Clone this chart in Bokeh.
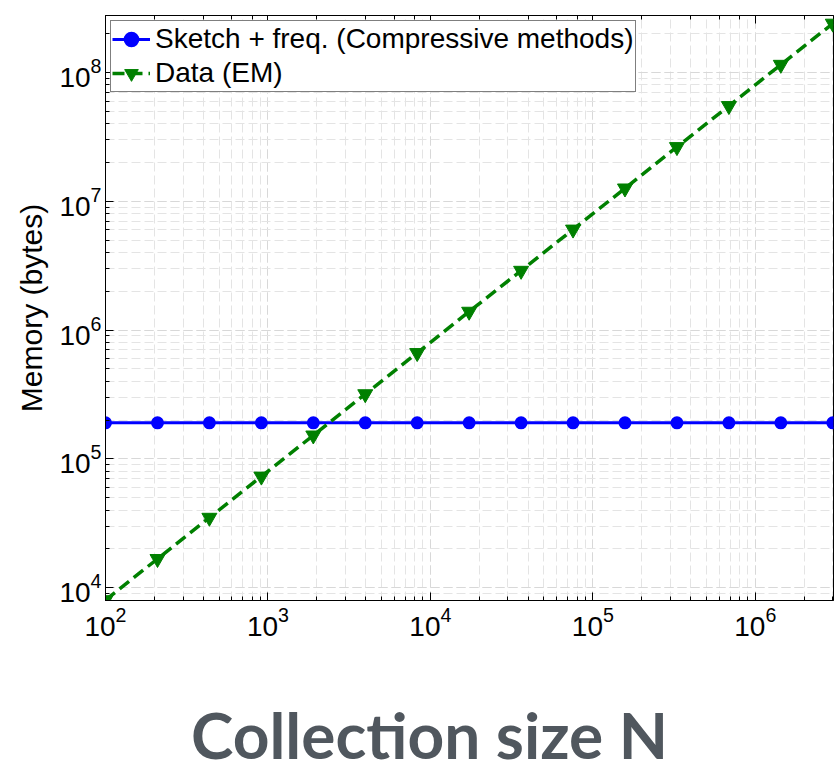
from bokeh.plotting import figure
from bokeh.models import LogAxis, Range1d, CustomJSTickFormatter, Div
from bokeh.layouts import column
from bokeh.embed import file_html
from bokeh.resources import INLINE

# Data
N = [100, 209, 436, 911, 1902, 3972, 8294, 17320, 36170, 75530,
     157700, 329400, 687900, 1436000, 3000000]
sketch_mem = [190000, 190000, 190000, 190000, 190000, 190000, 190000, 190000,
              190000, 190000, 190000, 190000, 190000, 190000, 190000]
em_mem = [8000, 16700, 34900, 72900, 152000, 318000, 664000, 1390000,
          2890000, 6040000, 12600000, 26400000, 55000000, 115000000, 240000000]
series_labels = ["Sketch + freq. (Compressive methods)", "Data (EM)"]
x_title = "Collection size N"
y_title = "Memory (bytes)"

FONT = "Liberation Sans"

p = figure(width=834, height=662, x_axis_type="log", y_axis_type="log",
           x_range=Range1d(100, 3.03e6), y_range=Range1d(7930, 2.77e8),
           output_backend="svg", toolbar_location=None,
           min_border_left=105, min_border_right=1, min_border_top=15,
           min_border_bottom=62, background_fill_color="white",
           border_fill_color="white")
p.outline_line_color = "black"
p.outline_line_width = 1

for ax in (p.xaxis[0], p.yaxis[0]):
    ax.major_tick_in = 8
    ax.major_tick_out = 0
    ax.minor_tick_in = 4
    ax.minor_tick_out = 0
    ax.axis_line_color = "black"
    ax.major_tick_line_color = "black"
    ax.minor_tick_line_color = "black"
    ax.major_label_text_font = FONT
    ax.major_label_text_font_size = "28px"
    ax.major_label_text_color = "black"

p.xaxis.major_label_standoff = 6
p.yaxis.major_label_standoff = 4
p.yaxis.axis_label = y_title
p.yaxis.axis_label_text_font = FONT
p.yaxis.axis_label_text_font_size = "30px"
p.yaxis.axis_label_text_font_style = "normal"
p.yaxis.axis_label_text_color = "black"
p.yaxis.axis_label_standoff = 8

top = LogAxis(major_tick_in=8, major_tick_out=0, minor_tick_in=4, minor_tick_out=0,
              formatter=CustomJSTickFormatter(code="return ''"),
              major_label_standoff=0, axis_line_color="black")
p.add_layout(top, "above")

for g in (p.xgrid[0], p.ygrid[0]):
    g.grid_line_color = "#d8d8d8"
    g.grid_line_dash = "9 4"
    g.grid_line_width = 1
    g.minor_grid_line_color = "#e4e4e4"
    g.minor_grid_line_dash = "9 4"
    g.minor_grid_line_width = 1

blue = "#0000ff"
green = "#008000"
p.line(N, sketch_mem, line_color=blue, line_width=3, legend_label=series_labels[0])
p.scatter(N, sketch_mem, marker="circle", size=11, line_color=blue, line_width=2,
          fill_color=blue, legend_label=series_labels[0])
p.line(N, em_mem, line_color=green, line_width=3.5, line_dash="12 6",
       legend_label=series_labels[1])
p.scatter(N, em_mem, marker="inverted_triangle", size=15, line_color=green,
          fill_color=green, legend_label=series_labels[1])

lg = p.legend[0]
lg.location = "top_left"
lg.margin = 5
lg.padding = 1
lg.spacing = 0
lg.glyph_width = 38
lg.glyph_height = 34
lg.label_height = 34
lg.label_standoff = 5
lg.label_text_font = FONT
lg.label_text_font_size = "28px"
lg.label_text_color = "black"
lg.border_line_color = "black"
lg.border_line_width = 1
lg.background_fill_alpha = 1

# Big x-axis caption below the chart
caption = Div(
    text=('<div style="padding-left:191px; padding-top:48px; font-family:Lato; '
          'font-size:64px; font-weight:bold; line-height:50px; color:#50575e; '
          'white-space:nowrap; margin:0;">' + x_title + '</div>'),
    width=834, height=100, margin=0)

layout = column(p, caption, spacing=0)
open("out.html", "w").write(file_html(layout, INLINE))
